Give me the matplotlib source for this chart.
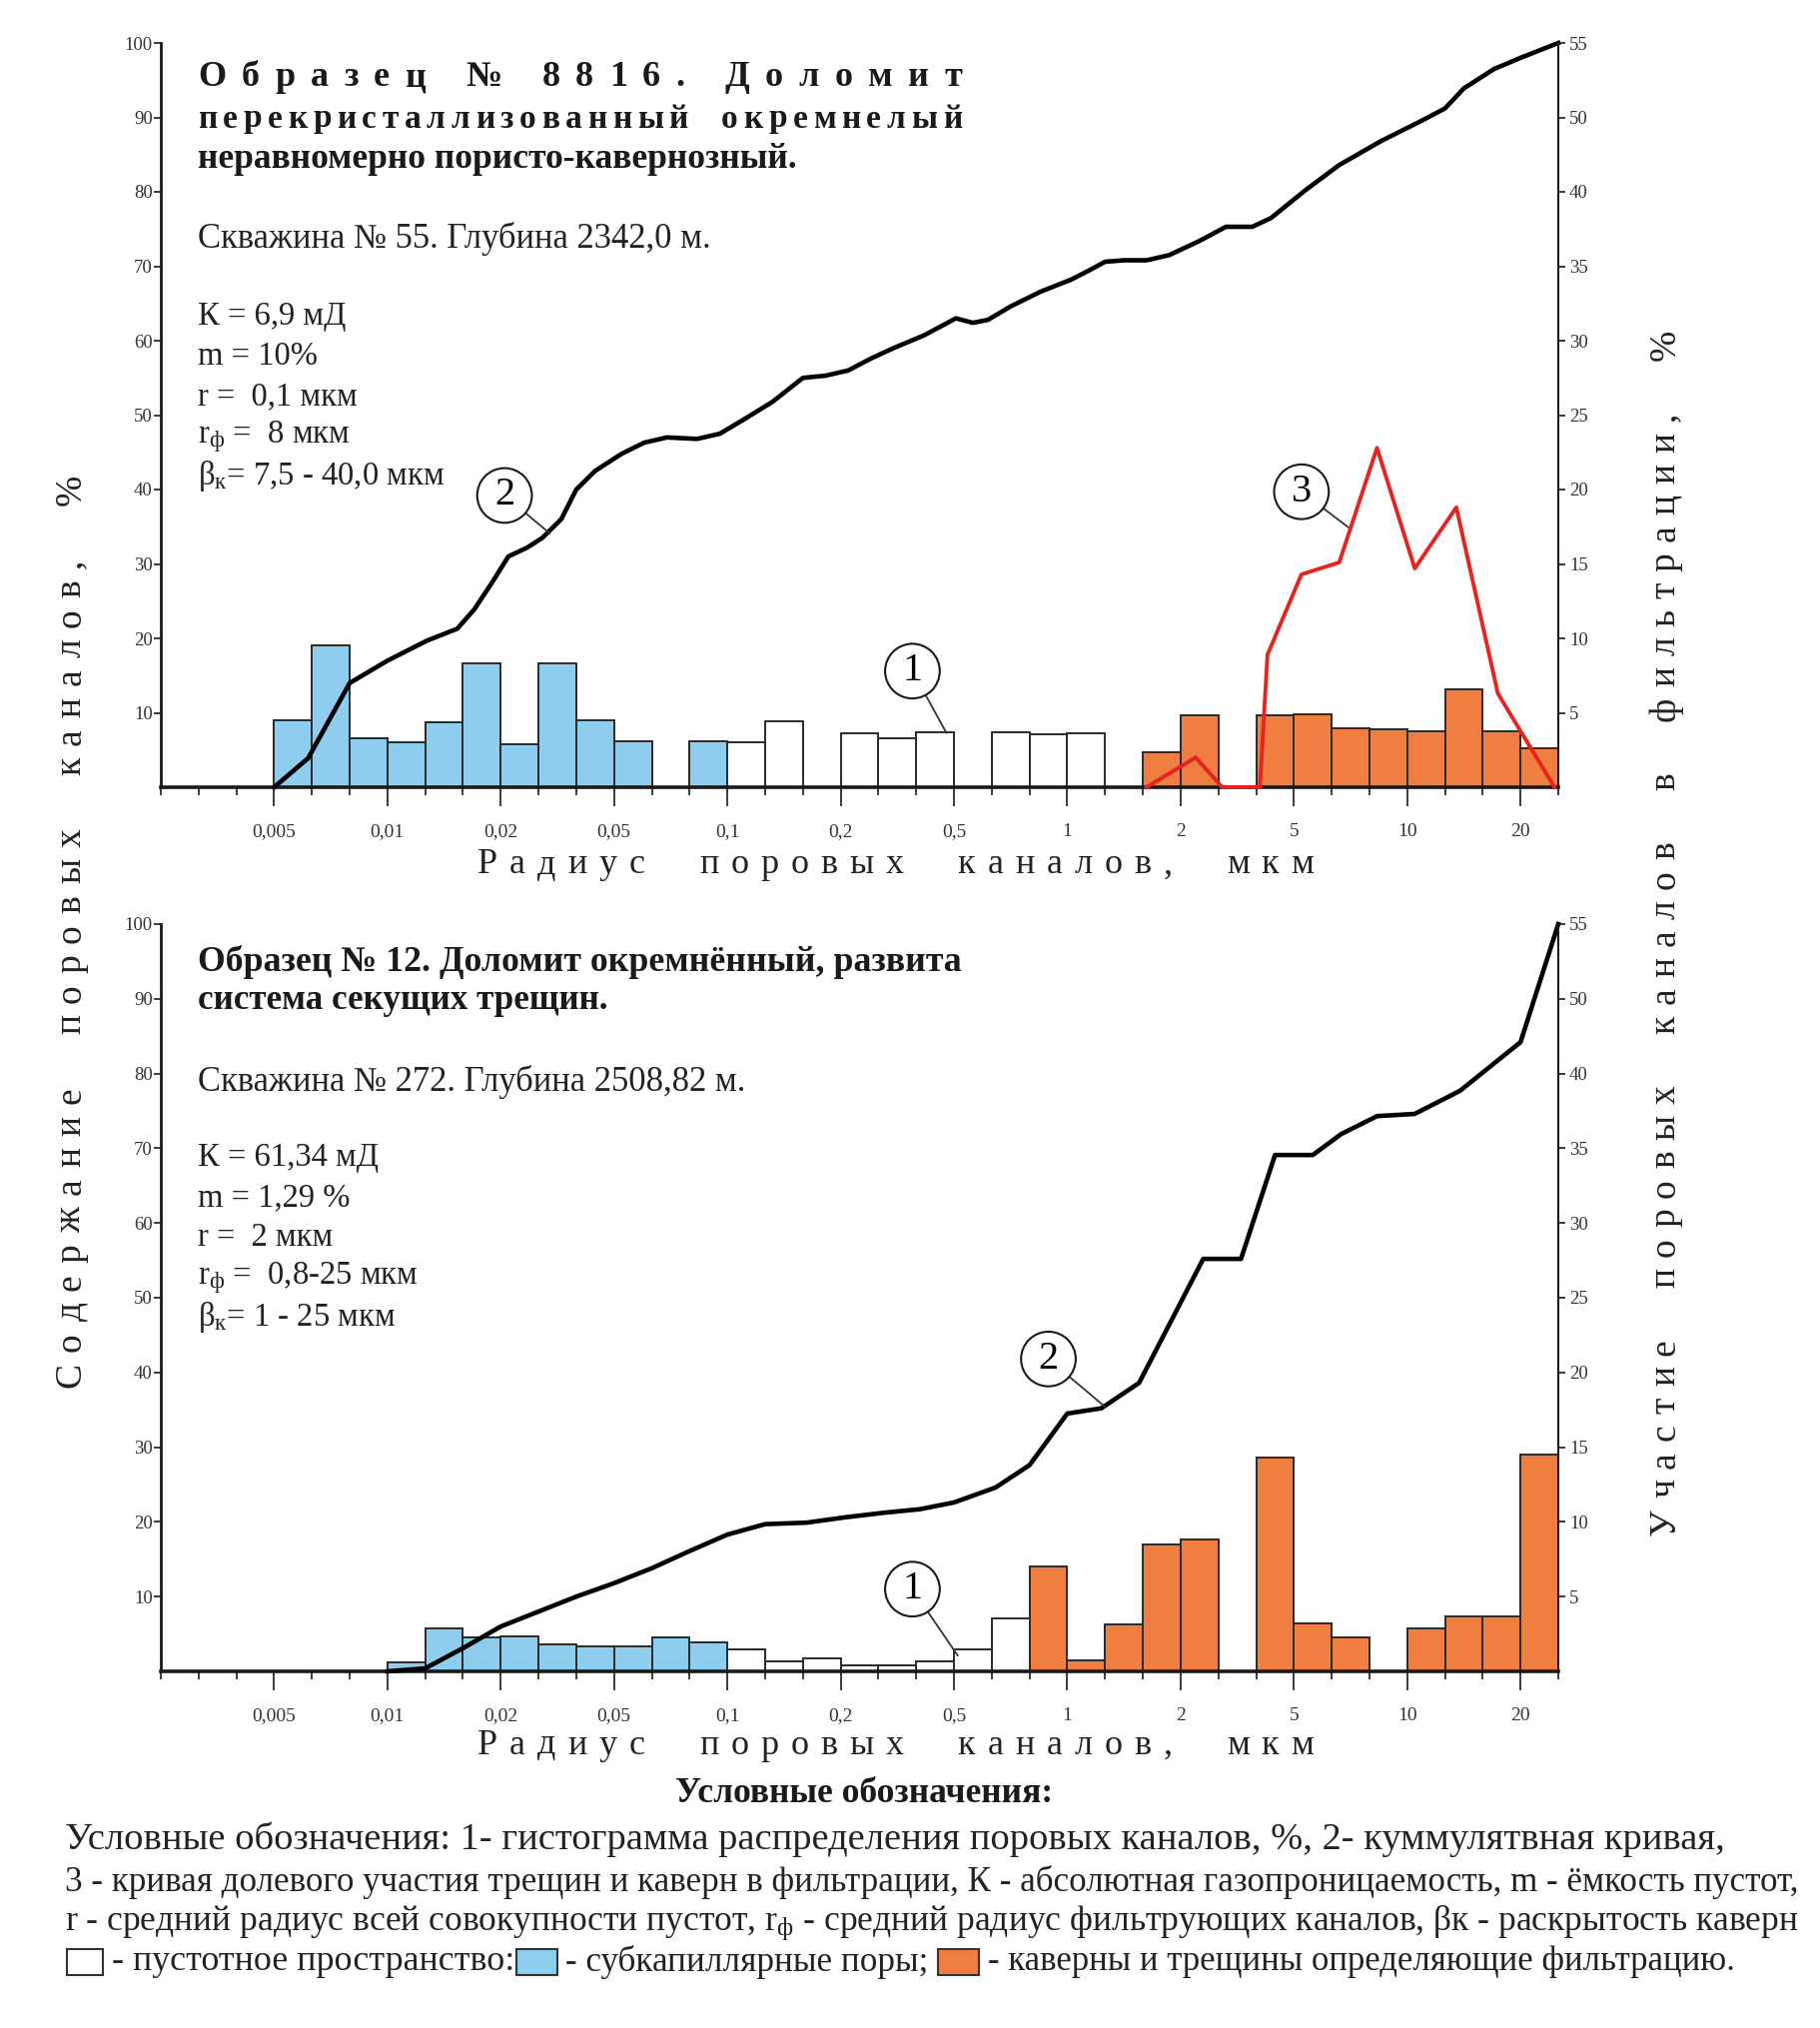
import matplotlib
matplotlib.use("Agg")
import matplotlib.pyplot as plt
from matplotlib.patches import Rectangle

plt.rcParams["font.family"] = ["Liberation Serif", "DejaVu Serif"]
plt.rcParams["mathtext.fontset"] = "custom"
plt.rcParams["mathtext.rm"] = "Liberation Serif"
plt.rcParams["mathtext.it"] = "Liberation Serif:italic"
plt.rcParams["mathtext.bf"] = "Liberation Serif:bold"

# ---- data (x = bin index on the radius scale, 3 bins per labelled step) ----
x_tick_pos = [3, 6, 9, 12, 15, 18, 21, 24, 27, 30, 33, 36]
x_tick_lab = ["0,005", "0,01", "0,02", "0,05", "0,1", "0,2", "0,5", "1", "2", "5", "10", "20"]
y_left_lab = ["10", "20", "30", "40", "50", "60", "70", "80", "90", "100"]
y_right_lab = ["5", "10", "15", "20", "25", "30", "35", "40", "50", "55"]

# sample 8816
s1_bins = [3, 4, 5, 6, 7, 8, 9, 10, 11, 12, 14, 15, 16, 18, 19, 20, 22, 23, 24,
           26, 27, 29, 30, 31, 32, 33, 34, 35, 36]
s1_hist = [9.0, 19.0, 6.6, 6.0, 8.7, 16.6, 5.8, 16.6, 9.0, 6.2, 6.2, 6.1, 8.8, 7.2, 6.6, 7.4, 7.4, 7.1, 7.3,
           4.7, 9.6, 9.7, 9.8, 7.9, 7.8, 7.5, 13.1, 7.5, 5.3]
s1_kind = ["b"] * 11 + ["w"] * 8 + ["o"] * 10
s1_cum_x = [3.0, 3.9, 5.0, 6.0, 7.05, 7.85, 8.3, 8.77, 9.2, 9.7, 10.1, 10.6, 11.0, 11.5, 12.2, 12.8, 13.4,
            14.2, 14.8, 15.4, 16.2, 17.0, 17.6, 18.2, 18.8, 19.4, 20.2, 21.05, 21.5, 21.9, 22.5, 23.3,
            24.1, 24.6, 25.0, 25.5, 26.1, 26.7, 27.5, 28.2, 28.9, 29.4, 30.3, 31.2, 32.3, 33.4, 34.0,
            34.5, 35.3, 36.0, 37.0]
s1_cum_y = [0, 3.9, 14.0, 17.0, 19.7, 21.3, 23.9, 27.5, 31.0, 32.2, 33.5, 36.0, 40.0, 42.5, 44.8, 46.3, 47.0,
            46.8, 47.5, 49.3, 51.8, 55.0, 55.3, 56.0, 57.6, 59.0, 60.7, 63.0, 62.4, 62.8, 64.6, 66.6,
            68.2, 69.5, 70.6, 70.8, 70.8, 71.5, 73.4, 75.3, 75.3, 76.5, 80.2, 83.6, 86.8, 89.6, 91.2,
            93.9, 96.5, 98.0, 100.0]
s1_red_x = [26.1, 27.4, 28.1, 29.1, 29.3, 30.2, 31.2, 32.2, 33.2, 34.3, 35.4, 36.9]
s1_red_y = [0, 2.0, 0, 0, 8.9, 14.3, 15.1, 22.8, 14.7, 18.8, 6.3, 0]

# sample 12
s2_bins = [6, 7, 8, 9, 10, 11, 12, 13, 14, 15, 16, 17, 18, 19, 20, 21, 22,
           23, 24, 25, 26, 27, 29, 30, 31, 33, 34, 35, 36]
s2_hist = [1.2, 5.8, 4.6, 4.7, 3.6, 3.4, 3.4, 4.6, 3.9, 2.9, 1.3, 1.7, 0.8, 0.8, 1.4, 3.0, 7.1,
           14.1, 1.5, 6.3, 17.0, 17.6, 28.6, 6.4, 4.6, 5.8, 7.3, 7.3, 29.0]
s2_kind = ["b"] * 9 + ["w"] * 8 + ["o"] * 12
s2_cum_x = [6, 7, 8, 9, 10, 11, 12, 13, 14, 15, 16, 17.1, 18.1, 19.1, 20.1, 21, 22.1, 23.0, 24.0, 24.9,
            25.9, 27.6, 28.6, 29.5, 30.5, 31.25, 32.2, 33.2, 34.4, 36.0, 37.0]
s2_cum_y = [0, 0.4, 3.1, 6.0, 8.0, 10.0, 11.8, 13.8, 16.1, 18.3, 19.7, 19.9, 20.6, 21.2, 21.7, 22.6, 24.6,
            27.6, 34.5, 35.2, 38.6, 55.2, 55.2, 69.1, 69.1, 71.9, 74.3, 74.6, 77.7, 84.2, 100.0]

# ---- figure ----
W, H = 1822, 2030
fig = plt.figure(figsize=(W / 100, H / 100), dpi=100, facecolor="white")
rend = fig.canvas.get_renderer()
COL = {"b": "#8ECDED", "w": "white", "o": "#EF7E40"}
INK = "#1a1a1a"
AX_L, AX_R = 161, 1560


def fx(x):
    return x / W


def fy(y):
    return 1 - y / H


def width_of(t):
    return t.get_window_extent(rend).width


def spread(s, a0, a1, c, size, vertical=False, **kw):
    # letter-spaced text between a0 and a1 (pixels); vertical text reads bottom to top
    arts = [fig.text(0, 0, ch, fontsize=size, ha="left", va="center", **kw) for ch in s]
    ws = [0.25 * size * 100 / 72 if ch == " " else width_of(t) for ch, t in zip(s, arts)]
    gap = (abs(a1 - a0) - sum(ws)) / (len(s) - 1)
    pos = 0
    for t, w in zip(arts, ws):
        if vertical:
            t.set_position((fx(c), fy(a0 - pos)))
            t.set_rotation(90)
            t.set_rotation_mode("anchor")
        else:
            t.set_position((fx(a0 + pos), fy(c)))
        pos += w + gap


def fit(s, x0, x1, y, size, **kw):
    t = fig.text(fx(x0), fy(y), s, fontsize=size, ha="left", va="center", **kw)
    t.set_fontsize(size * (x1 - x0) / width_of(t))
    return t


def panel(top, bot, bins, hist, kind, cx, cy, notes, red=None):
    ax = fig.add_axes([fx(AX_L), fy(bot), (AX_R - AX_L) / W, (bot - top) / H])
    ax.set_xlim(0, 37)
    ax.set_ylim(0, 100)
    ax.bar(bins, hist, width=1, align="edge", color=[COL[k] for k in kind],
           edgecolor="#2a2a2a", linewidth=1.4, zorder=2)
    ax.plot(cx, cy, color="black", lw=3.3, zorder=4, clip_on=False, solid_joinstyle="round")

    ax.set_xticks(x_tick_pos)
    ax.set_xticklabels(x_tick_lab)
    ax.set_xticks(range(0, 38), minor=True)
    ax.tick_params(axis="x", which="major", length=14, width=1.2, pad=12, labelsize=14, colors=INK)
    ax.tick_params(axis="x", which="minor", length=6, width=1.2, colors=INK)
    ax.set_yticks(range(10, 101, 10))
    ax.set_yticklabels(y_left_lab)
    ax.tick_params(axis="y", length=5, width=1.2, pad=1, labelsize=13.5, colors=INK)
    for lab in ax.get_xticklabels() + ax.get_yticklabels():
        lab.set_color("#333333")

    for sp in ("top", "right"):
        ax.spines[sp].set_visible(False)
    ax.spines["bottom"].set_linewidth(2.6)
    ax.spines["left"].set_linewidth(2.0)
    ax.spines["bottom"].set_color(INK)
    ax.spines["left"].set_color(INK)
    ax.patch.set_alpha(0)

    ax2 = ax.twinx()
    ax2.set_ylim(0, 50)
    ax2.set_yticks(range(5, 51, 5))
    ax2.set_yticklabels(y_right_lab)
    ax2.tick_params(axis="y", length=5, width=1.2, pad=3, labelsize=13.5, colors=INK)
    for lab in ax2.get_yticklabels():
        lab.set_color("#333333")
    for sp in ("top", "left", "bottom"):
        ax2.spines[sp].set_visible(False)
    ax2.spines["right"].set_linewidth(1.5)
    ax2.spines["right"].set_color(INK)
    if red is not None:
        ax2.plot(red[0], red[1], color="#E5231F", lw=2.8, zorder=5, clip_on=False)

    for num, txy, pxy in notes:
        ax.annotate(num, xy=pxy, xytext=txy, fontsize=29, ha="center", va="center", zorder=6,
                    bbox=dict(boxstyle="circle,pad=0.22", fc="white", ec=INK, lw=1.5),
                    arrowprops=dict(arrowstyle="-", color="#333333", lw=1.3, shrinkA=0, shrinkB=0))
    return ax


panel(43, 788, s1_bins, s1_hist, s1_kind, s1_cum_x, s1_cum_y,
      [("2", (9.1, 39.2), (10.3, 34.1)), ("1", (19.9, 15.6), (20.8, 7.3)), ("3", (30.2, 39.7), (31.5, 34.7))],
      red=(s1_red_x, s1_red_y))
panel(925, 1673, s2_bins, s2_hist, s2_kind, s2_cum_x, s2_cum_y,
      [("2", (23.5, 41.8), (25.0, 35.4)), ("1", (19.9, 11.0), (21.1, 2.1))])

# ---- texts inside the panels ----
TX = 198
spread("Образец № 8816. Доломит", TX, 963, 78, 26, fontweight="bold", color=INK)
spread("перекристаллизованный  окремнелый", TX, 963, 119, 24, fontweight="bold", color=INK)
fit("неравномерно пористо-кавернозный.", TX, 797, 160, 22, fontweight="bold", color=INK)
fit("Скважина № 55. Глубина 2342,0 м.", TX, 711, 239, 22, color="#222222")
for yy, s in zip([317, 357, 397, 437, 477],
                 ["К = 6,9 мД", "m = 10%", "r =  0,1 мкм", r"r$_\mathrm{ф}$ =  8 мкм",
                  r"β$_\mathrm{к}$= 7,5 - 40,0 мкм"]):
    fig.text(fx(TX), fy(yy), s, fontsize=23.5, ha="left", va="center", color="#222222")

fit("Образец № 12. Доломит окремнённый, развита", TX, 960, 963, 22, fontweight="bold", color=INK)
fit("система секущих трещин.", TX, 608, 1001, 22, fontweight="bold", color=INK)
fit("Скважина № 272. Глубина 2508,82 м.", TX, 746, 1083, 22, color="#222222")
for yy, s in zip([1159, 1199, 1239, 1279, 1319],
                 ["К = 61,34 мД", "m = 1,29 %", "r =  2 мкм", r"r$_\mathrm{ф}$ =  0,8-25 мкм",
                  r"β$_\mathrm{к}$= 1 - 25 мкм"]):
    fig.text(fx(TX), fy(yy), s, fontsize=23.5, ha="left", va="center", color="#222222")

# ---- axis titles ----
spread("Радиус  поровых  каналов,  мкм", 478, 1315, 866, 26, color="#222222")
spread("Радиус  поровых  каналов,  мкм", 478, 1315, 1747, 26, color="#222222")
spread("Содержание  поровых  каналов,  %", 1389, 475, 71, 27, vertical=True, color="#222222")
spread("Участие  поровых  каналов  в  фильтрации,  %", 1537, 330, 1667, 27, vertical=True, color="#222222")

# ---- legend ----
fit("Условные обозначения:", 676, 1053, 1796, 20, fontweight="bold", color=INK)
fit("Условные обозначения: 1- гистограмма распределения поровых каналов, %, 2- куммулятвная кривая,",
    65, 1725, 1841, 20, color="#222222")
fit("3 - кривая долевого участия трещин и каверн в фильтрации, К - абсолютная газопроницаемость, "
    "m - ёмкость пустот,", 65, 1805, 1884, 20, color="#222222")
fit(r"r - средний радиус всей совокупности пустот, r$_\mathrm{ф}$ - средний радиус фильтрующих каналов, "
    "βк - раскрытость каверн", 65, 1799, 1925, 20, color="#222222")

for x0, x1, c in [(67, 103, "white"), (517, 558, COL["b"]), (939, 980, COL["o"])]:
    fig.add_artist(Rectangle((fx(x0), fy(1977)), (x1 - x0) / W, 26 / H, transform=fig.transFigure,
                             fc=c, ec="#333333", lw=1.5))
fit("- пустотное пространство:", 112, 514, 1964, 20, color="#222222")
fit("- субкапиллярные поры;", 566, 930, 1964, 20, color="#222222")
fit("- каверны и трещины определяющие фильтрацию.", 989, 1738, 1964, 20, color="#222222")

fig.savefig("out.png", dpi=100, facecolor="white")
